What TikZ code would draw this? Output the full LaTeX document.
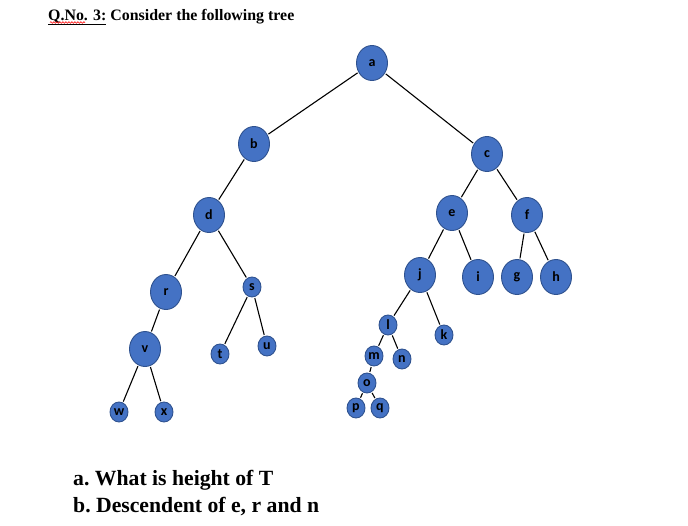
\documentclass[tikz,border=0pt]{standalone}
\usepackage{fontspec}
\setmainfont{Liberation Serif}
\newfontfamily\lblfont{Carlito}
\usetikzlibrary{shapes.geometric,decorations.pathmorphing}
\definecolor{nodefill}{HTML}{4472C4}
\definecolor{nodeline}{HTML}{2F528F}
\tikzset{
  tnode/.style={ellipse,draw=nodeline,fill=nodefill,line width=0.9pt,inner sep=0pt,
     font=\lblfont\bfseries\fontsize{14}{14}\selectfont,text=black},
  bignode/.style={tnode,minimum width=31pt,minimum height=35pt},
  smallnode/.style={tnode,minimum width=18pt,minimum height=20pt},
  edge/.style={draw=black,line width=1.1pt},
}
\begin{document}
\begin{tikzpicture}[x=1pt,y=-1pt]
\useasboundingbox (0,0) rectangle (688,525);
% title
\node[anchor=base west,inner sep=0pt,font=\bfseries\fontsize{15.9}{17}\selectfont] (title) at (48,20) {\underline{Q.No. 3:} Consider the following tree};
\draw[red,line width=0.6pt,decorate,decoration={snake,amplitude=0.8pt,segment length=3pt}] ([xshift=2pt,yshift=-2.5pt]title.base west) -- ++(35,0);
% nodes
\node[bignode] (a) at (372,63) {a};
\node[bignode] (b) at (254,144) {b};
\node[bignode] (c) at (487,154) {c};
\node[bignode] (d) at (209,215) {d};
\node[bignode] (e) at (452,213) {e};
\node[bignode] (f) at (527,215) {f};
\node[bignode] (r) at (166,292) {r};
\node[smallnode] (s) at (252,287) {s};
\node[bignode] (j) at (420,275) {j};
\node[bignode] (i) at (478,277) {i};
\node[bignode] (g) at (517,277) {g};
\node[bignode] (h) at (556,277) {h};
\node[bignode] (v) at (145,349) {v};
\node[smallnode] (t) at (220,354) {t};
\node[smallnode] (u) at (267,346) {u};
\node[smallnode] (l) at (388,325) {l};
\node[smallnode] (k) at (444,335) {k};
\node[smallnode] (m) at (374,356) {m};
\node[smallnode] (n) at (402,359) {n};
\node[smallnode] (o) at (367,383) {o};
\node[smallnode] (p) at (356,408) {p};
\node[smallnode] (q) at (380,408) {q};
\node[smallnode] (w) at (119,412) {w};
\node[smallnode] (x) at (164,412) {x};
% edges
\foreach \u/\v in {a/b,a/c,b/d,d/r,d/s,r/v,v/w,v/x,s/t,s/u,c/e,c/f,e/j,e/i,f/g,f/h,j/l,j/k,l/m,l/n,m/o,o/p,o/q}
  \draw[edge,shorten <=1pt,shorten >=1pt] (\u) -- (\v);
% questions
\node[anchor=base west,inner sep=0pt,font=\bfseries\fontsize{21.7}{23}\selectfont] (qa) at (73,485) {a.\ What is height of T};
\node[anchor=base west,inner sep=0pt,font=\bfseries\fontsize{21.7}{23}\selectfont] (qb) at (73,512) {b.\ Descendent of e, r and n};
\end{tikzpicture}
\end{document}
